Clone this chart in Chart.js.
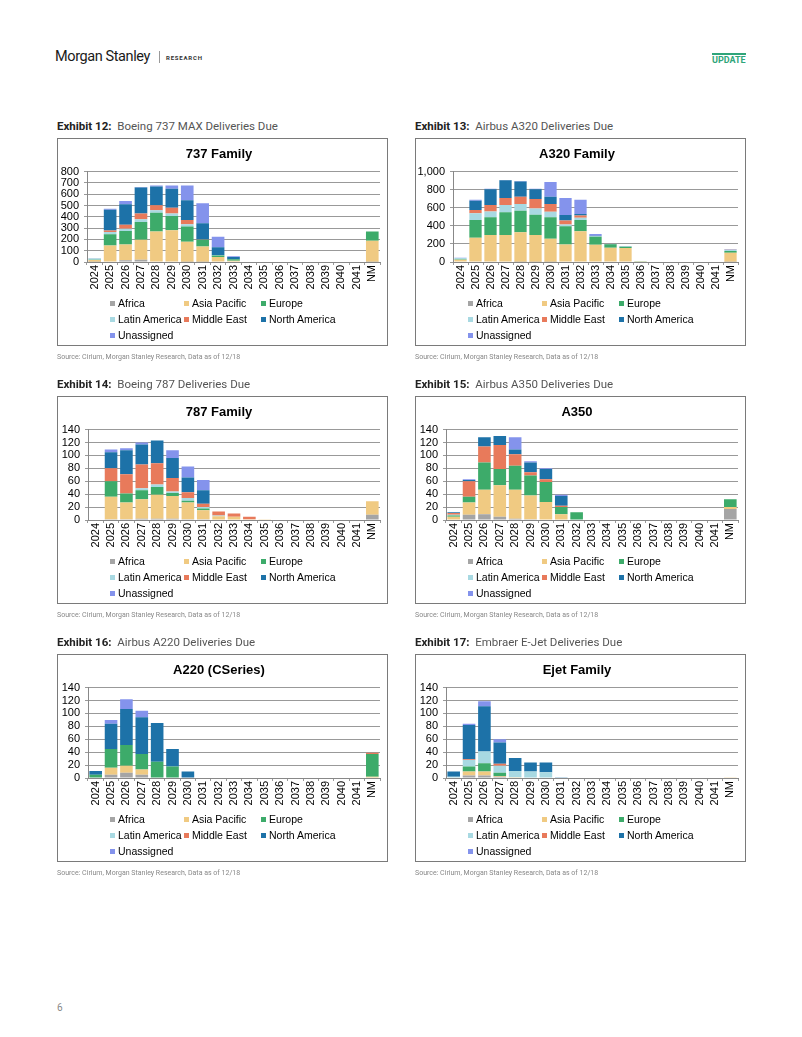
<!DOCTYPE html>
<html>
<head>
<meta charset="utf-8">
<script src="https://cdn.jsdelivr.net/npm/chart.js@4.4.1/dist/chart.umd.min.js"></script>
<style>
  body { margin: 0; background: #fff; width: 802px; height: 1037px; position: relative; font-family: Roboto, "Liberation Sans", Arial, sans-serif; overflow: hidden; }
  .abs { position: absolute; }
  .brand { left: 55px; top: 48px; font-size: 14.5px; color: #1a1a1a; letter-spacing: -0.4px; }
  .bar-sep { left: 159px; top: 51px; width: 1px; height: 12px; background: #999; }
  .research { left: 166px; top: 54px; font-size: 6px; font-weight: bold; letter-spacing: 0.8px; color: #333; }
  .update { left: 712px; top: 53px; font-size: 9px; font-weight: bold; color: #2fa57a; border-top: 2px solid #2fa57a; padding-top: 1px; line-height: 9px; }
  .ex { font-size: 11.5px; color: #555; white-space: nowrap; }
  .ex b { color: #222; font-weight: bold; }
  .box { width: 329px; height: 206px; border: 1px solid #7a7a7a; }
  .box canvas { position: absolute; left: 0; top: 0; }
  .legend { position: absolute; left: 52px; top: 156px; display: grid; grid-template-columns: 74px 77px 90px; grid-auto-rows: 16px; font-family: Arial, "Liberation Sans", sans-serif; font-size: 10.5px; color: #000; }
  .legend span { display: flex; align-items: center; white-space: nowrap; }
  .legend i { display: inline-block; width: 5px; height: 5px; margin-right: 3px; }
  .src { font-size: 7px; color: #888; white-space: nowrap; }
  .page { left: 57px; top: 1002px; font-size: 10px; color: #888; }
</style>
</head>
<body>
<div class="abs brand">Morgan Stanley</div>
<div class="abs bar-sep"></div>
<div class="abs research">RESEARCH</div>
<div class="abs update">UPDATE</div>

<div id="page"></div>
<div class="abs page">6</div>

<script>
const FONT = 'Arial, "Liberation Sans", sans-serif';

const years = ['2024', '2025', '2026', '2027', '2028', '2029', '2030', '2031', '2032', '2033',
  '2034', '2035', '2036', '2037', '2038', '2039', '2040', '2041', 'NM'];
const regions = ['Africa', 'Asia Pacific', 'Europe', 'Latin America', 'Middle East', 'North America', 'Unassigned'];
const regionColors = ['#a5a5a5', '#f0ca82', '#3dab6a', '#a8d9e2', '#e87a5b', '#1d72a8', '#8493ec'];

// Boeing 737 MAX
const b737Africa = [2, 5, 15, 20, 5, 5, 3, 2, 0, 0, 0, 0, 0, 0, 0, 0, 0, 0, 3];
const b737Asia = [15, 140, 140, 178, 265, 277, 177, 135, 44, 10, 0, 0, 0, 0, 0, 0, 0, 0, 185];
const b737Europe = [3, 100, 120, 157, 166, 125, 134, 61, 14, 15, 0, 0, 0, 0, 0, 0, 0, 0, 82];
const b737Latam = [8, 20, 20, 23, 21, 23, 21, 0, 2, 0, 0, 0, 0, 0, 0, 0, 0, 0, 0];
const b737Mideast = [0, 14, 35, 52, 46, 50, 37, 2, 0, 0, 0, 0, 0, 0, 0, 0, 0, 0, 0];
const b737NorthAm = [2, 183, 180, 230, 166, 169, 175, 142, 71, 20, 0, 0, 0, 0, 0, 0, 0, 0, 0];
const b737Unassigned = [0, 10, 30, 3, 8, 28, 130, 178, 93, 5, 0, 0, 0, 0, 0, 0, 0, 0, 0];

// Airbus A320
const a320Africa = [5, 5, 5, 5, 3, 3, 3, 0, 0, 0, 0, 0, 0, 0, 0, 0, 0, 0, 3];
const a320Asia = [20, 262, 295, 295, 327, 297, 253, 194, 340, 190, 157, 155, 8, 0, 0, 0, 0, 0, 98];
const a320Europe = [5, 198, 194, 249, 238, 224, 238, 202, 125, 90, 40, 15, 2, 0, 0, 0, 0, 0, 22];
const a320Latam = [15, 73, 66, 81, 73, 69, 63, 18, 25, 5, 0, 2, 0, 0, 0, 0, 0, 0, 12];
const a320Mideast = [0, 37, 70, 77, 81, 103, 84, 44, 23, 0, 0, 0, 0, 0, 0, 0, 0, 0, 3];
const a320NorthAm = [0, 103, 176, 198, 168, 110, 81, 62, 18, 5, 3, 3, 0, 0, 0, 0, 0, 0, 0];
const a320Unassigned = [3, 11, 5, 3, 5, 3, 164, 187, 158, 20, 0, 0, 0, 0, 0, 0, 0, 0, 5];

// Boeing 787
const b787Africa = [0, 1, 1, 2, 2, 2, 1, 1, 0, 0, 0, 0, 0, 0, 0, 0, 0, 0, 8];
const b787Asia = [0, 35, 26, 30, 37, 35, 26, 14, 6, 5, 1, 1, 0, 0, 0, 0, 0, 0, 21];
const b787Europe = [0, 24, 14, 14, 12, 5, 3, 3, 0, 0, 0, 0, 0, 0, 0, 0, 0, 0, 0];
const b787Latam = [0, 0, 0, 3, 4, 2, 4, 2, 1, 0, 0, 0, 0, 0, 0, 0, 0, 0, 0];
const b787Mideast = [0, 20, 30, 37, 33, 21, 9, 5, 6, 5, 4, 0, 0, 0, 0, 0, 0, 0, 0];
const b787NorthAm = [0, 25, 37, 31, 35, 31, 23, 21, 0, 0, 0, 0, 0, 0, 0, 0, 0, 0, 0];
const b787Unassigned = [0, 4, 3, 3, 0, 12, 17, 16, 0, 0, 0, 0, 0, 0, 0, 0, 0, 0, 0];

// Airbus A350
const a350Africa = [0, 8, 9, 5, 2, 1, 0, 0, 0, 0, 0, 0, 0, 0, 0, 0, 0, 0, 17];
const a350Asia = [5, 19, 38, 49, 45, 37, 28, 9, 0, 0, 0, 0, 0, 0, 0, 0, 0, 0, 3];
const a350Europe = [2, 9, 42, 25, 37, 31, 31, 11, 12, 0, 0, 0, 0, 0, 0, 0, 0, 0, 12];
const a350Latam = [1, 0, 0, 0, 0, 0, 0, 0, 0, 0, 0, 0, 0, 0, 0, 0, 0, 0, 0];
const a350Mideast = [3, 24, 25, 37, 18, 5, 4, 2, 0, 0, 0, 0, 0, 0, 0, 0, 0, 0, 0];
const a350NorthAm = [1, 2, 14, 14, 7, 15, 16, 15, 0, 0, 0, 0, 0, 0, 0, 0, 0, 0, 0];
const a350Unassigned = [0, 1, 0, 0, 19, 2, 1, 2, 0, 0, 0, 0, 0, 0, 0, 0, 0, 0, 0];

// Airbus A220
const a220Africa = [0, 5, 8, 5, 0, 0, 0, 0, 0, 0, 0, 0, 0, 0, 0, 0, 0, 0, 0];
const a220Asia = [0, 11, 11, 8, 0, 0, 0, 0, 0, 0, 0, 0, 0, 0, 0, 0, 0, 0, 2];
const a220Europe = [5, 29, 32, 24, 25, 18, 0, 0, 0, 0, 0, 0, 0, 0, 0, 0, 0, 0, 35];
const a220Latam = [0, 0, 0, 0, 0, 0, 0, 0, 0, 0, 0, 0, 0, 0, 0, 0, 0, 0, 0];
const a220Mideast = [0, 0, 0, 0, 0, 0, 0, 0, 0, 0, 0, 0, 0, 0, 0, 0, 0, 0, 2];
const a220NorthAm = [6, 39, 56, 57, 60, 27, 10, 0, 0, 0, 0, 0, 0, 0, 0, 0, 0, 0, 0];
const a220Unassigned = [0, 6, 15, 10, 0, 0, 0, 0, 0, 0, 0, 0, 0, 0, 0, 0, 0, 0, 0];

// Embraer E-Jet
const ejetAfrica = [0, 4, 4, 2, 0, 0, 0, 0, 0, 0, 0, 0, 0, 0, 0, 0, 0, 0, 0];
const ejetAsia = [0, 6, 6, 1, 1, 0, 0, 0, 0, 0, 0, 0, 0, 0, 0, 0, 0, 0, 1];
const ejetEurope = [0, 8, 13, 5, 0, 0, 0, 0, 0, 0, 0, 0, 0, 0, 0, 0, 0, 0, 0];
const ejetLatam = [2, 10, 18, 11, 10, 10, 9, 0, 0, 0, 0, 0, 0, 0, 0, 0, 0, 0, 0];
const ejetMideast = [0, 1, 0, 3, 0, 0, 0, 0, 0, 0, 0, 0, 0, 0, 0, 0, 0, 0, 0];
const ejetNorthAm = [8, 53, 70, 33, 20, 14, 15, 1, 0, 0, 0, 0, 0, 0, 0, 0, 0, 0, 0];
const ejetUnassigned = [0, 2, 8, 5, 0, 0, 0, 0, 0, 0, 0, 0, 0, 0, 0, 0, 0, 0, 0];

const exhibits = [
  { num: 12, name: 'Boeing 737 MAX Deliveries Due', title: '737 Family', x: 57, y: 138, max: 800, step: 100, yw: 29,
    series: [b737Africa, b737Asia, b737Europe, b737Latam, b737Mideast, b737NorthAm, b737Unassigned] },
  { num: 13, name: 'Airbus A320 Deliveries Due', title: 'A320 Family', x: 415, y: 138, max: 1000, step: 200, yw: 37,
    series: [a320Africa, a320Asia, a320Europe, a320Latam, a320Mideast, a320NorthAm, a320Unassigned] },
  { num: 14, name: 'Boeing 787 Deliveries Due', title: '787 Family', x: 57, y: 396, max: 140, step: 20, yw: 30,
    series: [b787Africa, b787Asia, b787Europe, b787Latam, b787Mideast, b787NorthAm, b787Unassigned] },
  { num: 15, name: 'Airbus A350 Deliveries Due', title: 'A350', x: 415, y: 396, max: 140, step: 20, yw: 30,
    series: [a350Africa, a350Asia, a350Europe, a350Latam, a350Mideast, a350NorthAm, a350Unassigned] },
  { num: 16, name: 'Airbus A220 Deliveries Due', title: 'A220 (CSeries)', x: 57, y: 654, max: 140, step: 20, yw: 30,
    series: [a220Africa, a220Asia, a220Europe, a220Latam, a220Mideast, a220NorthAm, a220Unassigned] },
  { num: 17, name: 'Embraer E-Jet Deliveries Due', title: 'Ejet Family', x: 415, y: 654, max: 140, step: 20, yw: 30,
    series: [ejetAfrica, ejetAsia, ejetEurope, ejetLatam, ejetMideast, ejetNorthAm, ejetUnassigned] },
];

const page = document.getElementById('page');

exhibits.forEach((ex) => {
  // exhibit heading
  const head = document.createElement('div');
  head.className = 'abs ex';
  head.style.left = ex.x + 'px';
  head.style.top = (ex.y - 19) + 'px';
  head.innerHTML = `<b>Exhibit ${ex.num}:</b>&nbsp; ${ex.name}`;
  page.appendChild(head);

  // bordered chart box
  const box = document.createElement('div');
  box.className = 'abs box';
  box.style.left = ex.x + 'px';
  box.style.top = ex.y + 'px';
  const canvas = document.createElement('canvas');
  canvas.width = 329;
  canvas.height = 206;
  box.appendChild(canvas);

  const legend = document.createElement('div');
  legend.className = 'legend';
  regions.forEach((r, i) => {
    const item = document.createElement('span');
    item.innerHTML = `<i style="background:${regionColors[i]}"></i>${r}`;
    legend.appendChild(item);
  });
  box.appendChild(legend);
  page.appendChild(box);

  const src = document.createElement('div');
  src.className = 'abs src';
  src.style.left = ex.x + 'px';
  src.style.top = (ex.y + 215) + 'px';
  src.textContent = 'Source: Cirium, Morgan Stanley Research, Data as of 12/18';
  page.appendChild(src);

  new Chart(canvas.getContext('2d'), {
    type: 'bar',
    data: {
      labels: years,
      datasets: ex.series.map((vals, i) => ({
        label: regions[i],
        data: vals,
        backgroundColor: regionColors[i],
        categoryPercentage: 0.82,
        barPercentage: 1,
      })),
    },
    options: {
      responsive: false,
      animation: false,
      layout: { padding: { left: 0, right: 7, top: 0, bottom: 46 } },
      plugins: {
        legend: { display: false },
        tooltip: { enabled: false },
        title: {
          display: true,
          text: ex.title,
          color: '#000',
          font: { family: FONT, size: 13, weight: 'bold' },
          padding: { top: 8, bottom: 9 },
        },
      },
      scales: {
        x: {
          stacked: true,
          afterFit: (scale) => { scale.height = 37; },
          // small tick marks between categories, no vertical gridlines
          grid: { display: true, drawOnChartArea: false, color: '#999', tickLength: 3 },
          border: { color: '#888' },
          ticks: {
            color: '#000',
            font: { family: FONT, size: 11 },
            minRotation: 90,
            maxRotation: 90,
            autoSkip: false,
            padding: 0,
          },
        },
        y: {
          stacked: true,
          min: 0,
          max: ex.max,
          afterFit: (scale) => { scale.width = ex.yw; },
          grid: { color: '#999', tickLength: 3 },
          border: { color: '#888' },
          ticks: {
            stepSize: ex.step,
            autoSkip: false,
            color: '#000',
            font: { family: FONT, size: 11 },
            padding: 5,
          },
        },
      },
    },
  });
});
</script>
</body>
</html>
